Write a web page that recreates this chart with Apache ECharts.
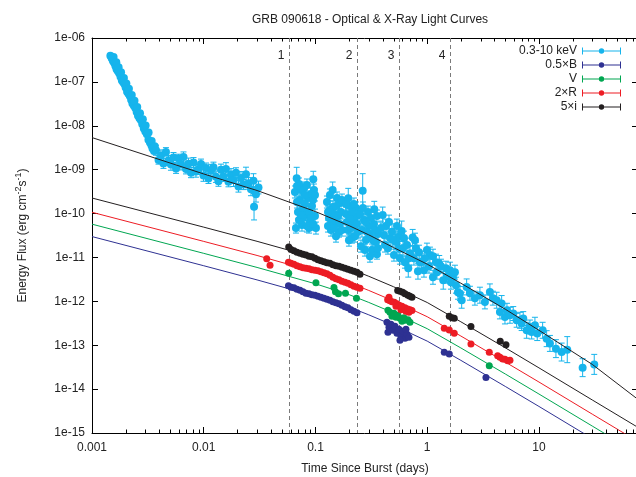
<!DOCTYPE html>
<html>
<head>
<meta charset="utf-8">
<script src="https://cdn.jsdelivr.net/npm/echarts@6/dist/echarts.min.js"></script>
<style>
html,body{margin:0;padding:0;background:#fff;}
#chart{width:636px;height:477px;}
</style>
</head>
<body>
<div id="chart"></div>
<script>
// ---- axes ----
const X_MIN = 0.001, X_MAX = 77;
const Y_MIN = 1e-15, Y_MAX = 1e-6;
const xTickLabels = ['0.001', '0.01', '0.1', '1', '10'];
const yTickLabels = ['1e-15', '1e-14', '1e-13', '1e-12', '1e-11', '1e-10', '1e-09', '1e-08', '1e-07', '1e-06'];
const xDecades = [0.001, 0.01, 0.1, 1, 10];

// ---- observing epochs marked by dashed lines ----
const phaseTimes = [0.058, 0.235, 0.556, 1.61];
const phaseLabels = ['1', '2', '3', '4'];

// ---- X-ray (0.3-10 keV) light curve: time (days), flux, error-bar factor ----
const xrayTime = [
  0.00146,0.00150,0.00154,0.00158,0.00162,0.00166,0.00170,0.00175,0.00180,0.00185,0.00190,0.00195,0.00200,0.00206,0.00212,0.00218,0.00224,0.00230,0.00237,0.00244,0.00251,0.00258,0.00266,0.00274,0.00282,0.00291,0.00300,0.00310,0.00320,0.00330,0.00340,0.00348,0.00359,
  0.00156,0.00165,0.00173,0.00182,0.00193,0.00203,0.00214,0.00227,0.00240,0.00254,0.00269,0.00285,0.00302,0.00321,0.00342,0.00364,
  0.00374,0.00394,0.00414,0.00436,0.00459,0.00484,0.00509,0.00536,0.00565,0.00594,0.00626,0.00659,0.00694,0.00730,0.00769,0.00810,0.00852,0.00898,0.00945,0.00995,0.01048,0.01103,0.01161,0.01222,0.01287,0.01355,0.01427,0.01502,0.01581,0.01665,0.01753,0.01846,0.01944,0.02046,0.02154,0.02268,0.02388,0.02514,0.02647,0.02787,0.02934,0.03090,
  0.0282,
  0.0679,0.0956,0.0655,0.0697,0.0727,0.0757,0.0789,0.0822,0.0857,0.0893,0.0930,0.0969,0.0669,0.0773,0.0875,0.0990,0.0712,0.0911,
  0.0683,0.0742,0.0805,0.0839,0.0875,0.0950,0.1010,0.0712,0.0773,0.0911,0.0990,0.0805,0.0839,0.0950,0.0742,0.0683,
  0.1425,0.1267,0.1321,0.1376,0.1435,0.1495,0.1558,0.1623,0.1691,0.1294,0.1464,0.1640,0.1348,
  0.1526,0.1590,0.1656,0.1726,0.1348,0.1405,0.1526,0.1294,0.1726,0.1464,
  0.1965,0.1874,0.1953,0.2035,0.2121,0.2210,0.2304,0.2401,0.1913,0.2166,0.2352,
  0.2035,0.2257,0.1874,0.2121,0.2352,0.1994,0.2210,0.2078,
  0.2646,0.3359,0.2502,0.2607,0.2716,0.2831,0.2950,0.3074,0.3203,0.3338,0.3478,0.3624,0.2773,0.3011,0.3550,
  0.2554,0.2661,0.2890,0.3138,0.3270,0.3407,0.3550,0.2831,0.3074,0.3624,
  0.3993,0.4102,0.4275,0.4455,0.4642,0.4838,0.5042,0.5254,0.5473,0.5703,0.5905,0.6067,0.6324,0.6590,0.6769,0.7009,0.7411,0.7609,0.7930,0.8264,0.8612,
  0.3856,0.4188,0.4548,0.4938,0.5362,0.5587,0.6192,0.6866,0.7769,0.8436,
  0.8920,0.9352,0.9948,1.058,1.126,1.198,1.281,1.392,1.472,1.598,1.700,1.808,
  0.9548,1.037,1.126,1.223,1.327,1.502,1.631,1.771,1.884,
  1.963,2.034,2.254,2.413,2.673,2.963,3.284,3.640,3.873,4.183,4.477,4.637,4.964,5.172,5.502,5.888,6.316,6.761,7.002,7.236,7.758,8.308,8.604,9.207,9.654,10.79,11.72,12.54,14.19,15.96,17.92,24.60,31.25
];
const xrayFlux = [
  3.94e-7,3.46e-7,2.99e-7,2.70e-7,2.29e-7,1.93e-7,1.77e-7,1.58e-7,1.31e-7,1.08e-7,9.79e-8,8.9e-8,7.45e-8,6.0e-8,5.35e-8,4.8e-8,3.94e-8,3.2e-8,2.85e-8,2.55e-8,2.05e-8,1.70e-8,1.49e-8,1.33e-8,1.08e-8,8.7e-9,7.45e-9,6.4e-9,4.8e-9,4.16e-9,3.6e-9,3.05e-9,2.67e-9,
  3.70e-7,2.80e-7,2.15e-7,1.66e-7,1.23e-7,9.2e-8,7.0e-8,5.0e-8,3.7e-8,2.68e-8,1.93e-8,1.40e-8,1.02e-8,7.0e-9,4.5e-9,3.4e-9,
  2.77e-9,1.67e-9,2.09e-9,1.39e-9,2.54e-9,1.61e-9,1.31e-9,1.89e-9,1.07e-9,1.80e-9,1.33e-9,1.95e-9,1.04e-9,1.36e-9,8.54e-10,1.45e-9,9.10e-10,1.01e-9,1.34e-9,7.33e-10,1.09e-9,6.30e-10,9.44e-10,1.14e-9,6.92e-10,5.44e-10,9.90e-10,7.00e-10,1.03e-9,5.29e-10,7.81e-10,5.79e-10,8.50e-10,4.16e-10,6.46e-10,4.57e-10,7.85e-10,4.89e-10,3.57e-10,5.58e-10,2.74e-10,3.92e-10,
  1.43e-10,
  6.36e-10,6.04e-10,3.10e-10,1.08e-10,2.03e-10,5.46e-11,3.82e-10,9.74e-11,2.26e-10,6.40e-11,1.48e-10,3.44e-10,4.67e-11,7.89e-11,4.67e-11,8.77e-11,4.72e-10,2.79e-10,
  1.83e-10,3.44e-10,1.65e-10,5.19e-11,1.08e-10,2.03e-10,4.67e-11,7.11e-11,1.34e-10,7.89e-11,2.65e-10,2.65e-10,4.47e-10,5.76e-11,9.24e-11,4.25e-10,
  3.44e-10,1.83e-10,7.89e-11,4.20e-11,1.41e-10,6.40e-11,2.26e-10,3.78e-11,1.08e-10,5.19e-11,9.74e-11,1.74e-10,2.65e-10,
  3.06e-11,8.77e-11,5.76e-11,2.03e-10,1.20e-10,7.11e-11,1.48e-10,1.08e-10,4.20e-11,4.67e-11,
  2.22e-10,9.74e-11,4.20e-11,1.48e-10,2.76e-11,7.11e-11,1.34e-10,3.78e-11,6.40e-11,5.19e-11,8.77e-11,
  7.89e-11,3.06e-11,1.65e-10,1.08e-10,5.76e-11,2.48e-11,1.65e-10,4.67e-11,
  3.32e-10,1.25e-10,9.74e-11,4.20e-11,7.11e-11,2.51e-11,1.08e-10,3.40e-11,1.47e-11,5.76e-11,2.26e-11,3.40e-11,1.47e-11,5.19e-11,1.19e-11,
  1.81e-11,1.34e-10,3.78e-11,7.89e-11,2.48e-11,4.20e-11,8.77e-11,6.40e-11,1.07e-11,1.63e-11,
  9.24e-11,3.23e-11,5.19e-11,1.63e-11,2.76e-11,3.84e-11,1.13e-11,2.26e-11,2.91e-11,9.64e-12,3.99e-11,1.63e-11,7.81e-12,1.91e-11,5.70e-12,1.25e-11,2.86e-11,9.64e-12,1.63e-11,4.87e-12,7.81e-12,
  4.67e-11,1.91e-11,6.40e-11,2.51e-11,5.19e-11,1.63e-11,2.76e-11,9.64e-12,2.48e-11,1.32e-11,
  7.93e-12,5.13e-12,1.47e-11,1.13e-11,3.53e-12,7.81e-12,7.29e-12,3.03e-12,5.70e-12,5.13e-12,3.53e-12,2.33e-12,
  9.64e-12,6.33e-12,1.07e-11,4.62e-12,6.33e-12,3.74e-12,2.73e-12,4.62e-12,1.61e-12,
  1.51e-12,1.06e-12,2.13e-12,1.53e-12,1.18e-12,1.38e-12,9.69e-13,1.64e-12,1.18e-12,1.06e-12,5.73e-13,8.91e-13,4.40e-13,6.26e-13,4.82e-13,5.27e-13,3.70e-13,3.70e-13,3.11e-13,4.05e-13,2.19e-13,2.60e-13,2.00e-13,2.85e-13,1.84e-13,2.19e-13,1.41e-13,1.10e-13,8.36e-14,6.99e-14,7.93e-14,3.08e-14,3.66e-14
];
// bar spans flux/err .. flux*err
const xrayErr = [
  1.06,1.06,1.06,1.06,1.06,1.06,1.06,1.06,1.06,1.06,1.06,1.06,1.06,1.06,1.06,1.06,1.06,1.06,1.06,1.06,1.06,1.06,1.06,1.06,1.06,1.06,1.06,1.06,1.06,1.06,1.06,1.06,1.06,
  1.06,1.06,1.06,1.06,1.06,1.06,1.06,1.06,1.06,1.06,1.06,1.06,1.06,1.06,1.06,1.06,
  1.3,1.25,1.35,1.3,1.25,1.3,1.35,1.3,1.3,1.25,1.35,1.3,1.3,1.35,1.3,1.3,1.35,1.3,1.3,1.35,1.3,1.3,1.4,1.3,1.35,1.3,1.35,1.3,1.4,1.3,1.35,1.4,1.3,1.35,1.4,1.3,1.45,1.35,1.4,1.45,1.5,1.4,
  2.0,
  1.78,1.52,1.37,1.44,1.37,1.37,1.37,1.44,1.37,1.44,1.37,1.37,1.30,1.37,1.30,1.44,1.37,1.37,
  1.37,1.37,1.37,1.37,1.37,1.37,1.37,1.37,1.37,1.37,1.37,1.37,1.37,1.37,1.37,1.37,
  1.52,1.37,1.44,1.37,1.37,1.37,1.37,1.30,1.44,1.37,1.37,1.37,1.37,
  1.37,1.37,1.37,1.37,1.37,1.37,1.37,1.37,1.37,1.37,
  1.69,1.44,1.37,1.37,1.30,1.44,1.37,1.37,1.37,1.37,1.37,
  1.37,1.37,1.37,1.37,1.37,1.37,1.37,1.37,
  2.44,1.52,1.44,1.44,1.37,1.44,1.37,1.44,1.37,1.44,1.37,1.37,1.37,1.37,1.30,
  1.37,1.37,1.37,1.37,1.37,1.37,1.37,1.37,1.37,1.37,
  1.52,1.44,1.44,1.37,1.44,1.52,1.37,1.44,1.37,1.37,1.69,1.44,1.37,1.44,1.60,1.44,1.52,1.44,1.37,1.52,1.44,
  1.44,1.44,1.44,1.44,1.44,1.44,1.44,1.44,1.44,1.44,
  1.52,1.44,1.44,1.52,1.44,1.52,1.52,1.60,1.44,1.52,1.52,1.52,
  1.44,1.44,1.44,1.44,1.44,1.44,1.44,1.44,1.44,
  1.44,1.52,1.52,1.44,1.44,1.52,1.44,1.52,1.44,1.52,1.44,1.52,1.44,1.44,1.52,1.44,1.44,1.52,1.44,1.44,1.52,1.44,1.44,1.52,1.44,1.52,1.52,1.52,1.60,1.60,1.98,1.60,1.69
];

// ---- optical photometry (energy flux, scaled as in the legend) ----
const bTime = [0.0573,0.0604,0.0642,0.0683,0.0727,0.0773,0.0822,0.0875,0.0930,0.0990,0.1053,0.1120,0.1192,0.1267,0.1348,0.1434,0.1526,0.1623,0.1726,0.1837,0.1953,0.2078,0.2211,0.2352,
  0.4363,0.4548,0.4738,0.4938,0.5146,0.5362,0.5587,0.5822,0.6067,0.6324,0.6590,0.6866,0.4455,0.5703,0.6453,
  1.421,1.576,3.355];
const bFlux = [2.27e-12,2.10e-12,2.04e-12,1.89e-12,1.79e-12,1.66e-12,1.53e-12,1.49e-12,1.41e-12,1.38e-12,1.31e-12,1.24e-12,1.18e-12,1.12e-12,1.06e-12,9.79e-13,9.29e-13,8.81e-13,8.15e-13,7.53e-13,7.14e-13,6.43e-13,5.94e-13,5.49e-13,
  3.33e-13,2.56e-13,3.00e-13,2.19e-13,2.70e-13,1.87e-13,2.31e-13,1.60e-13,2.08e-13,1.44e-13,1.77e-13,1.51e-13,1.97e-13,1.29e-13,2.31e-13,
  6.88e-14,6.30e-14,1.85e-14];

const vTime = [0.0576,0.1010,0.1464,0.1510,0.1606,0.1856,0.2328,
  0.4455,0.4642,0.4838,0.5042,0.5254,0.5473,0.5703,0.5943,0.6192,0.6453,0.6724,0.7009,
  3.592];
const vFlux = [4.38e-12,2.66e-12,2.07e-12,1.66e-12,1.49e-12,1.53e-12,1.18e-12,
  6.26e-13,5.64e-13,4.57e-13,5.35e-13,4.34e-13,4.82e-13,4.11e-13,3.51e-13,4.22e-13,3.70e-13,3.80e-13,3.33e-13,
  3.39e-14];

const rTime = [0.0366,0.0392,
  0.0573,0.0604,0.0642,0.0683,0.0727,0.0773,0.0822,0.0875,0.0930,0.0990,0.1053,0.1120,0.1192,0.1267,0.1348,0.1434,0.1526,0.1623,0.1726,0.1837,0.1953,0.2078,0.2211,0.2352,0.2502,
  0.4426,0.4548,0.4642,0.4838,0.5077,0.5254,0.5362,0.5623,0.5822,0.5943,0.6324,0.6453,0.6683,0.6866,0.7009,0.7302,
  1.421,1.576,1.746,2.463,
  3.592,4.270,4.477,4.732,4.964,5.248,5.503];
const rFlux = [9.29e-12,6.67e-12,
  7.81e-12,7.41e-12,7.03e-12,6.50e-12,6.17e-12,5.85e-12,5.70e-12,5.55e-12,5.27e-12,5.13e-12,4.99e-12,4.74e-12,4.50e-12,4.27e-12,3.94e-12,3.55e-12,3.28e-12,3.11e-12,2.88e-12,2.73e-12,2.59e-12,2.39e-12,2.21e-12,2.10e-12,1.99e-12,
  1.08e-12,1.24e-12,1.03e-12,9.79e-13,9.54e-13,7.73e-13,8.81e-13,8.15e-13,6.43e-13,7.73e-13,7.14e-13,5.94e-13,6.71e-13,5.64e-13,6.43e-13,6.17e-13,
  2.43e-13,2.22e-13,1.87e-13,1.07e-13,
  6.88e-14,5.79e-14,5.29e-14,4.84e-14,4.77e-14,4.45e-14,4.52e-14];

const iTime = [0.0576,0.0604,0.0642,0.0683,0.0727,0.0773,0.0822,0.0875,0.0930,0.0990,0.1053,0.1120,0.1192,0.1267,0.1348,0.1434,0.1526,0.1623,0.1726,0.1837,0.1953,0.2078,0.2211,0.2352,0.2502,
  0.5441,0.5703,0.6030,0.6324,0.6724,0.7009,0.7302,
  1.576,1.666,1.746,2.463,4.504,5.068];
const iFlux = [1.72e-11,1.51e-11,1.43e-11,1.32e-11,1.25e-11,1.19e-11,1.13e-11,1.07e-11,1.04e-11,9.64e-12,8.91e-12,8.45e-12,8.02e-12,7.61e-12,7.41e-12,6.85e-12,6.50e-12,6.33e-12,6.00e-12,5.70e-12,5.41e-12,5.13e-12,4.87e-12,4.62e-12,4.16e-12,
  1.76e-12,1.70e-12,1.61e-12,1.49e-12,1.38e-12,1.31e-12,1.24e-12,
  4.57e-13,4.22e-13,4.11e-13,2.66e-13,1.23e-13,1.03e-13];

// ---- afterglow model curves ----
const modelTime = [0.001,0.01,0.03,0.1,0.2,0.3,0.5,1,2,5,10,30,77];
const xrayModel = [5.38e-9,7.98e-10,3.35e-10,1.11e-10,5.30e-11,3.27e-11,1.68e-11,7.03e-12,2.59e-12,6.61e-13,2.19e-13,3.66e-14,5.82e-15];
const iModel = [2.26e-10,4.90e-11,2.33e-11,9.89e-12,5.61e-12,3.72e-12,2.15e-12,9.40e-13,3.42e-13,8.73e-14,3.05e-14,5.66e-15,1.34e-15];
const rModel = [1.07e-10,2.32e-11,1.11e-11,4.69e-12,2.66e-12,1.77e-12,1.02e-12,4.46e-13,1.62e-13,4.14e-14,1.45e-14,2.69e-15,6.37e-16];
const vModel = [5.73e-11,1.24e-11,5.92e-12,2.51e-12,1.42e-12,9.44e-13,5.46e-13,2.38e-13,8.67e-14,2.21e-14,7.73e-15,1.44e-15,3.40e-16];
const bModel = [2.99e-11,6.47e-12,3.08e-12,1.31e-12,7.41e-13,4.92e-13,2.84e-13,1.24e-13,4.52e-14,1.15e-14,4.03e-15,7.48e-16,1.77e-16];

// ---- styling ----
const FONT = '"Liberation Sans", Arial, Helvetica, sans-serif';
const TEXT = '#222';
const C_X = '#16b4ec', C_B = '#2e3192', C_V = '#00a651', C_R = '#ed1c24', C_I = '#231f20';

const zip = (a, b) => a.map((v, i) => [v, b[i]]);

function xLabel(v) { return xTickLabels[Math.round(Math.log10(v)) + 3] || ''; }
function yLabel(v) { return yTickLabels[Math.round(Math.log10(v)) + 15] || ''; }

// minor ticks at 2..9 of every decade along the time axis
const minorTicks = [];
xDecades.forEach(d => { for (let m = 2; m <= 9; m++) { if (d * m < X_MAX) minorTicks.push(d * m); } });

const errIcon = 'path://M0,0H1V7H0Z M38,0H39V7H38Z M1,3H16.8V4H1Z M22.2,3H38V4H22.2Z M16.8,3.5A2.7,2.7 0 1 1 22.2,3.5A2.7,2.7 0 1 1 16.8,3.5Z';

function lineSeries(data, color) {
  return { type: 'line', data: zip(modelTime, data), showSymbol: false, smooth: false,
    lineStyle: { color: color, width: 1 }, itemStyle: { color: color }, z: 4, silent: true, clip: true };
}
function dotSeries(name, t, f, color, size) {
  return { type: 'scatter', name: name, data: zip(t, f), symbol: 'circle', symbolSize: size,
    itemStyle: { color: color, opacity: 1 }, z: 5, silent: true, clip: true };
}

const chart = echarts.init(document.getElementById('chart'), null, { renderer: 'canvas' });

chart.setOption({
  animation: false,
  backgroundColor: '#fff',
  title: {
    text: 'GRB 090618 - Optical & X-Ray Light Curves',
    left: 365, top: 9, textAlign: 'center',
    textStyle: { fontFamily: FONT, fontSize: 12, fontWeight: 'normal', color: TEXT }
  },
  legend: {
    data: ['0.3-10 keV', '0.5×B', 'V', '2×R', '5×i'],
    orient: 'vertical', right: 15, top: 45, align: 'right', padding: 0,
    itemWidth: 39, itemHeight: 7, itemGap: 2, icon: errIcon, selectedMode: false,
    textStyle: { fontFamily: FONT, fontSize: 12, color: TEXT, lineHeight: 12 }
  },
  grid: { left: 92, top: 38, width: 546, height: 395, containLabel: false, outerBoundsMode: 'none' },
  xAxis: [
    { type: 'log', logBase: 10, min: X_MIN, max: X_MAX, position: 'bottom',
      name: 'Time Since Burst (days)', nameLocation: 'middle', nameGap: 30,
      nameTextStyle: { fontFamily: FONT, fontSize: 12, color: TEXT },
      axisLine: { show: true, onZero: false, lineStyle: { color: '#000', width: 1 } },
      axisTick: { inside: true, length: 6, lineStyle: { color: '#000' } },
      axisLabel: { formatter: xLabel, fontFamily: FONT, fontSize: 12, color: TEXT, margin: 9, showMaxLabel: false },
      splitLine: { show: false } },
    { type: 'log', logBase: 10, min: X_MIN, max: X_MAX, position: 'top',
      axisLine: { show: true, onZero: false, lineStyle: { color: '#000', width: 1 } },
      axisTick: { inside: true, length: 6, lineStyle: { color: '#000' } },
      axisLabel: { show: false }, splitLine: { show: false } }
  ],
  yAxis: [
    { type: 'log', logBase: 10, min: Y_MIN, max: Y_MAX, position: 'left',
      name: 'Energy Flux (erg cm{sup|-2}s{sup|-1})', nameLocation: 'middle', nameGap: 60,
      nameTextStyle: { fontFamily: FONT, fontSize: 12, color: TEXT, lineHeight: 18,
        rich: { sup: { fontFamily: FONT, fontSize: 9, color: TEXT, verticalAlign: 'top', lineHeight: 9 } } },
      axisLine: { show: true, onZero: false, lineStyle: { color: '#000', width: 1 } },
      axisTick: { inside: true, length: 6, lineStyle: { color: '#000' } },
      axisLabel: { formatter: yLabel, fontFamily: FONT, fontSize: 12, color: TEXT, margin: 7 },
      splitLine: { show: false } },
    { type: 'log', logBase: 10, min: Y_MIN, max: Y_MAX, position: 'right',
      axisLine: { show: true, onZero: false, lineStyle: { color: '#000', width: 1 } },
      axisTick: { inside: true, length: 6, lineStyle: { color: '#000' } },
      axisLabel: { show: false }, splitLine: { show: false } }
  ],
  series: [
    // minor ticks, bottom and top
    { type: 'custom', silent: true, z: 6, data: minorTicks.map(v => [v, 1e-10]),
      renderItem: function (params, api) {
        const b = api.coord([api.value(0), Y_MIN]);
        const t = api.coord([api.value(0), Y_MAX]);
        const x = Math.round(b[0]) + 0.5;
        const st = { stroke: '#000', lineWidth: 1 };
        return { type: 'group', children: [
          { type: 'line', shape: { x1: x, y1: b[1], x2: x, y2: b[1] - 3.5 }, style: st },
          { type: 'line', shape: { x1: x, y1: t[1], x2: x, y2: t[1] + 3.5 }, style: st }
        ] };
      } },
    // epoch markers
    { type: 'custom', silent: true, z: 1, data: phaseTimes.map((v, i) => [v, 1e-10, i]),
      renderItem: function (params, api) {
        const top = api.coord([api.value(0), Y_MAX]);
        const bot = api.coord([api.value(0), Y_MIN]);
        const x = Math.round(top[0]) + 0.5;
        return { type: 'group', children: [
          { type: 'line', shape: { x1: x, y1: top[1], x2: x, y2: bot[1] },
            style: { stroke: '#7a7a7a', lineWidth: 1, lineDash: [4, 3] } },
          { type: 'text', x: x - 5, y: top[1] + 18,
            style: { text: phaseLabels[api.value(2)], fill: TEXT, font: '12px ' + FONT, align: 'right', verticalAlign: 'middle' } }
        ] };
      } },
    // X-ray error bars
    { type: 'custom', silent: true, z: 2, clip: true,
      data: xrayTime.map((t, i) => [t, xrayFlux[i], xrayFlux[i] / xrayErr[i], xrayFlux[i] * xrayErr[i]]),
      renderItem: function (params, api) {
        const hi = api.coord([api.value(0), api.value(3)]);
        const lo = api.coord([api.value(0), api.value(2)]);
        const x = hi[0];
        const st = { stroke: C_X, lineWidth: 1 };
        return { type: 'group', children: [
          { type: 'line', shape: { x1: x, y1: hi[1], x2: x, y2: lo[1] }, style: st },
          { type: 'line', shape: { x1: x - 3, y1: hi[1], x2: x + 3, y2: hi[1] }, style: st },
          { type: 'line', shape: { x1: x - 3, y1: lo[1], x2: x + 3, y2: lo[1] }, style: st }
        ] };
      } },
    Object.assign(dotSeries('0.3-10 keV', xrayTime, xrayFlux, C_X, 8), { z: 3 }),
    lineSeries(xrayModel, C_I),
    lineSeries(iModel, C_I),
    lineSeries(rModel, C_R),
    lineSeries(vModel, C_V),
    lineSeries(bModel, C_B),
    dotSeries('0.5×B', bTime, bFlux, C_B, 7),
    dotSeries('V', vTime, vFlux, C_V, 7),
    dotSeries('2×R', rTime, rFlux, C_R, 7),
    dotSeries('5×i', iTime, iFlux, C_I, 7)
  ]
});
</script>
</body>
</html>
